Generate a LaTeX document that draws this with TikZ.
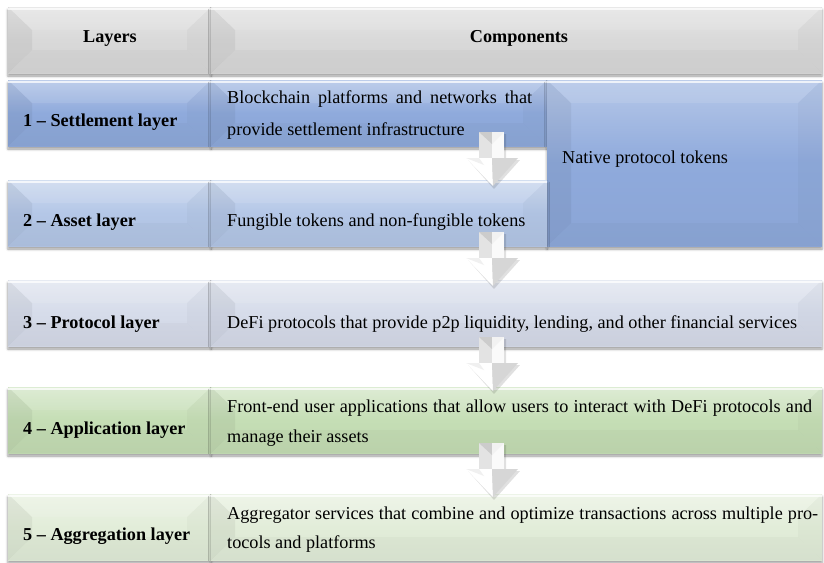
\documentclass[tikz,border=0pt]{standalone}
\usepackage{fontspec}
\setmainfont{Liberation Serif}
\usetikzlibrary{shadows.blur,calc}
\definecolor{hdr}{HTML}{D9D9D9}
\definecolor{rA}{HTML}{8FAADC}
\definecolor{rB}{HTML}{B4C7E7}
\definecolor{rC}{HTML}{D6DCEA}
\definecolor{rD}{HTML}{C5DEB5}
\definecolor{rE}{HTML}{E2EDD9}
\newcommand\myfs{\fontsize{18.2}{22}\selectfont}
\newcommand\ppb{path picture bounding box}
\newcommand\dnarrow[3]{%
  \begin{scope}[shift={(#1,#2)}]
    \fill[black,opacity=.12] (-11,2)--(14,2)--(14,28)--(28,28)--(2,57)--(-24,28)--(-11,28)--cycle;
    \fill[gray!22] (-13,0) rectangle (0,27);
    \fill[gray!4] (0,0) rectangle (12,27);
    \fill[gray!40] (-13,0)--(0,0)--(0,12)--cycle;
    \fill[gray!10] (0,0)--(12,0)--(0,12)--cycle;
    \fill[white] (-26,26)--(0,26)--(1,54)--cycle;
    \fill[gray!32] (0,26)--(26,26)--(1,54)--cycle;
    \fill[gray!12] (-26,26)--(-13,26)--(-8,33)--cycle;
    \coordinate (#3) at (1,54);
  \end{scope}}
\tikzset{
  bev/.style={rectangle, inner sep=0pt, outer sep=0pt, anchor=north west, draw=none,
    top color=#1!65!white, bottom color=#1!97!black, middle color=#1,
    blur shadow={shadow xshift=0pt, shadow yshift=-3pt, shadow blur radius=2.5pt, shadow opacity=40},
    path picture={
      \fill[black,opacity=.05] (\ppb.north west) -- ($(\ppb.north west)+(24,23)$) -- ($(\ppb.south west)+(24,-23)$) -- (\ppb.south west) -- cycle;
      \fill[black,opacity=.025] (\ppb.north east) -- ($(\ppb.north east)+(-24,23)$) -- ($(\ppb.south east)+(-24,-23)$) -- (\ppb.south east) -- cycle;
      \fill[white,opacity=.10] (\ppb.north west) -- ($(\ppb.north west)+(24,23)$) -- ($(\ppb.north east)+(-24,23)$) -- (\ppb.north east) -- cycle;
      \fill[black,opacity=.025] (\ppb.south west) -- ($(\ppb.south west)+(24,-23)$) -- ($(\ppb.south east)+(-24,-23)$) -- (\ppb.south east) -- cycle;
      \draw[white,opacity=.75,line width=2pt] ($(\ppb.north west)+(0,1.5)$) -- ($(\ppb.north east)+(0,1.5)$);
    }},
  lbl/.style={anchor=base west, inner sep=0pt, font=\myfs\bfseries},
  hd/.style={anchor=base, inner sep=0pt, font=\myfs\bfseries},
  txt/.style={anchor=base west, inner sep=0pt, font=\myfs},
}
\begin{document}
\begin{tikzpicture}[x=1pt,y=-1pt]
\useasboundingbox (0,0) rectangle (824,562);
% header
\node[bev=hdr, minimum width=203pt, minimum height=66pt] (hL) at (8,7) {};
\node[bev=hdr, minimum width=611pt, minimum height=66pt] (hR) at (211,7) {};
% row 1 and 2
\node[bev=rA, minimum width=203pt, minimum height=66pt] (l1) at (8,80) {};
\node[bev=rA, minimum width=336pt, minimum height=66pt] (c1) at (211,80) {};
\node[bev=rA, minimum width=275pt, minimum height=166pt] (nt) at (547,80) {};
\node[bev=rB, minimum width=203pt, minimum height=66pt] (l2) at (8,180) {};
\node[bev=rB, minimum width=336pt, minimum height=66pt] (c2) at (211,180) {};
% row 3
\node[bev=rC, minimum width=203pt, minimum height=66pt] (l3) at (8,280) {};
\node[bev=rC, minimum width=611pt, minimum height=66pt] (c3) at (211,280) {};
% row 4
\node[bev=rD, minimum width=203pt, minimum height=66pt] (l4) at (8,387) {};
\node[bev=rD, minimum width=611pt, minimum height=66pt] (c4) at (211,387) {};
% row 5
\node[bev=rE, minimum width=203pt, minimum height=66pt] (l5) at (8,494) {};
\node[bev=rE, minimum width=611pt, minimum height=66pt] (c5) at (211,494) {};
% arrows
\dnarrow{492}{132}{a1}
\dnarrow{492}{232}{a2}
\dnarrow{492}{337}{a3}
\dnarrow{492}{443}{a4}
% texts
\node[hd] (tLayers) at (110,42) {Layers};
\node[hd] (tComp) at (519,42) {Components};
\node[lbl] (t1) at (23,126) {1 – Settlement layer};
\node[lbl] (t2) at (23,226) {2 – Asset layer};
\node[lbl] (t3) at (23,328) {3 – Protocol layer};
\node[lbl] (t4) at (23,434) {4 – Application layer};
\node[lbl] (t5) at (23,540) {5 – Aggregation layer};
\node[txt] (b1a) at (227,103) {\makebox[305pt][s]{Blockchain platforms and networks that}};
\node[txt] (b1b) at (227,135) {provide settlement infrastructure};
\node[txt] (b2) at (227,226) {Fungible tokens and non-fungible tokens};
\node[txt] (bn) at (562,163) {Native protocol tokens};
\node[txt] (b3) at (227,328) {DeFi protocols that provide p2p liquidity, lending, and other financial services};
\node[txt] (b4a) at (227,412) {\makebox[585pt][s]{Front-end user applications that allow users to interact with DeFi protocols and}};
\node[txt] (b4b) at (227,442) {manage their assets};
\node[txt] (b5a) at (227,519) {\makebox[591pt][s]{Aggregator services that combine and optimize transactions across multiple pro-}};
\node[txt] (b5b) at (227,548) {tocols and platforms};
\end{tikzpicture}
\end{document}
